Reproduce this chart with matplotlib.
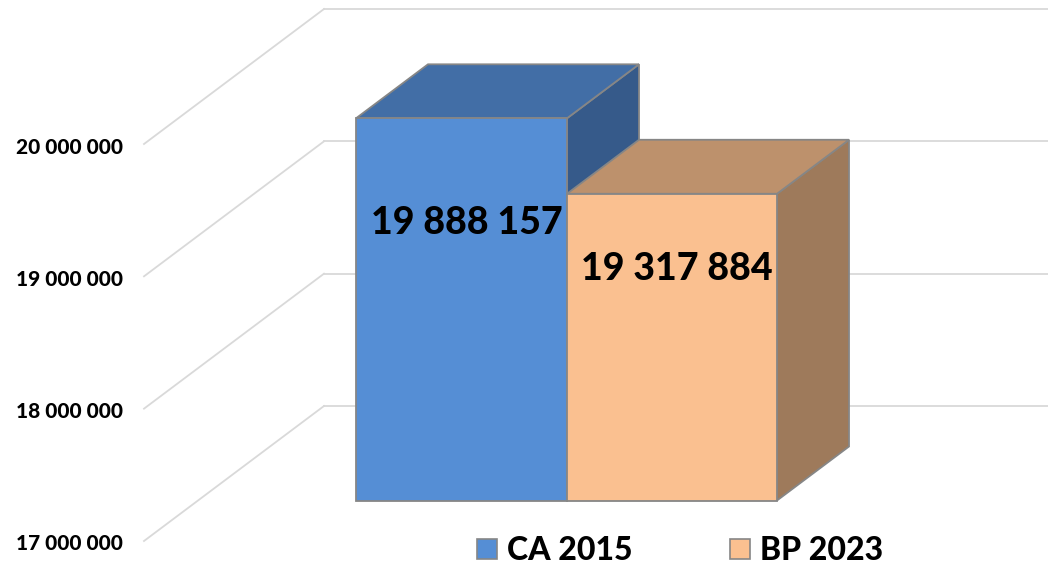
import matplotlib
matplotlib.use("Agg")
import matplotlib.pyplot as plt
from matplotlib.patches import Polygon, Rectangle

categories = ["CA 2015", "BP 2023"]
values = [19888157, 19317884]
value_labels = ["19 888 157", "19 317 884"]
ticks = [17000000, 18000000, 19000000, 20000000]
tick_labels = ["17 000 000", "18 000 000", "19 000 000", "20 000 000"]

front_colors = ["#558ed5", "#fac090"]
top_colors = ["#426ea6", "#bd916c"]
side_colors = ["#365a8a", "#9e7a5b"]
edge = "#868686"
grid = "#d9d9d9"

W, H = 1048, 564
plt.rcParams["font.family"] = ["Lato", "DejaVu Sans"]
fig = plt.figure(figsize=(W / 100, H / 100), dpi=100, facecolor="white")
ax = fig.add_axes([0, 0, 1, 1])

# y scale: 17M at pixel 541, 20M at pixel 144
px_per_unit = (541 - 144) / 3e6
y_bottom = 17e6 - (H - 541) / px_per_unit
y_top = y_bottom + H / px_per_unit
ax.set_xlim(0, W)
ax.set_ylim(y_bottom, y_top)
ax.axis("off")

wall_dx, wall_dy = 180, 135 / px_per_unit
bar_start = 0.30
bar_depth = 0.40

def proj(x, v, d):
    return (x + d * wall_dx, v + d * wall_dy)

for t, lab in zip(ticks, tick_labels):
    p0 = proj(144, t, 0)
    p1 = proj(144, t, 1)
    ax.plot([p0[0], p1[0]], [p0[1], p1[1]], color=grid, lw=1.3, zorder=1)
    ax.plot([p1[0], W], [p1[1], p1[1]], color=grid, lw=1.3, zorder=1)
    ax.text(122.5, t - 3 / px_per_unit, lab, ha="right", va="center", fontsize=15,
            fontweight=900, color="black")

x_edges = [302, 513, 723]
for i, (cat, v) in enumerate(zip(categories, values)):
    xl, xr = x_edges[i], x_edges[i + 1]
    b = ticks[0]
    d0, d1 = bar_start, bar_start + bar_depth
    top = [proj(xl, v, d0), proj(xr, v, d0), proj(xr, v, d1), proj(xl, v, d1)]
    side = [proj(xr, b, d0), proj(xr, v, d0), proj(xr, v, d1), proj(xr, b, d1)]
    front = [proj(xl, b, d0), proj(xr, b, d0), proj(xr, v, d0), proj(xl, v, d0)]
    z = 3 + i
    ax.add_patch(Polygon(side, fc=side_colors[i], ec=edge, lw=1.3, zorder=z))
    ax.add_patch(Polygon(top, fc=top_colors[i], ec=edge, lw=1.3, zorder=z))
    ax.add_patch(Polygon(front, fc=front_colors[i], ec=edge, lw=1.3, zorder=z))

label_px = [223, 269]
for i, lab in enumerate(value_labels):
    ax.text([467, 677][i], ticks[0] + (541 - label_px[i]) / px_per_unit, lab, ha="center", va="center",
            fontsize=27, fontweight=900, color="black", zorder=10)

# legend
for i, cat in enumerate(categories):
    x0 = [477, 730][i]
    ymid = ticks[0] + (541 - 549) / px_per_unit
    h = 20 / px_per_unit
    ax.add_patch(Rectangle((x0, ymid - h / 2), 20, h, fc=front_colors[i], ec=edge, lw=1.2, zorder=5))
    ax.text(x0 + 30, ymid - 1 / px_per_unit, cat, ha="left", va="center", fontsize=23,
            fontweight=900, color="black")

fig.savefig("out.png", dpi=100, facecolor="white")
